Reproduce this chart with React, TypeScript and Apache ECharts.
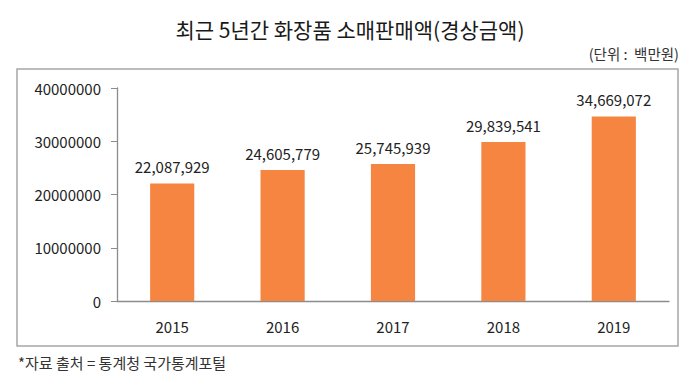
import React, { useEffect, useRef } from "react";
import * as echarts from "echarts";

const titleText = "최근 5년간 화장품 소매판매액(경상금액)";
const unitText = "(단위 :  백만원)";
const sourceText = "*자료 출처 = 통계청 국가통계포털";
const years = ["2015", "2016", "2017", "2018", "2019"];
const sales = [22087929, 24605779, 25745939, 29839541, 34669072];
const yMin = 0;
const yMax = 40000000;
const yInterval = 10000000;

const FONT = "'Noto Sans CJK KR', 'Noto Sans', sans-serif";

export default function App() {
  const ref = useRef<HTMLDivElement>(null);
  useEffect(() => {
    if (!ref.current) return;
    const chart = echarts.init(ref.current, undefined, { renderer: "svg" });
    chart.setOption({
      animation: false,
      backgroundColor: "#ffffff",
      textStyle: { fontFamily: FONT },
      graphic: [
        {
          type: "rect",
          shape: { x: 17, y: 69, width: 661, height: 277 },
          style: { fill: "none", stroke: "#a6a6a6", lineWidth: 1.5 },
          z: -1,
        },
        {
          type: "text",
          x: 350,
          y: 29,
          style: {
            text: titleText,
            fontSize: 21,
            fontFamily: FONT,
            fill: "#1a1a1a",
            align: "center",
            verticalAlign: "middle",
          },
        },
        {
          type: "text",
          x: 679,
          y: 53,
          style: {
            text: unitText,
            fontSize: 14.5,
            fontFamily: FONT,
            fill: "#333",
            align: "right",
            verticalAlign: "middle",
          },
        },
        {
          type: "text",
          x: 18,
          y: 362,
          style: {
            text: sourceText,
            fontSize: 15,
            fontFamily: FONT,
            fill: "#333",
            align: "left",
            verticalAlign: "middle",
          },
        },
      ],
      grid: { left: 117, right: 31, top: 88, bottom: 82 },
      xAxis: {
        type: "category",
        data: years,
        axisLine: { lineStyle: { color: "#8c8c8c", width: 1.3 } },
        axisTick: { show: false },
        axisLabel: { color: "#222", fontSize: 15, margin: 18, fontFamily: FONT },
      },
      yAxis: {
        type: "value",
        min: yMin,
        max: yMax,
        interval: yInterval,
        axisLine: { show: true, lineStyle: { color: "#8c8c8c", width: 1.3 } },
        axisTick: { show: true, length: 6, lineStyle: { color: "#8c8c8c" } },
        splitLine: { show: false },
        axisLabel: {
          color: "#222",
          fontSize: 15,
          margin: 16,
          fontFamily: FONT,
          formatter: (v: number) => String(v),
        },
      },
      series: [
        {
          type: "bar",
          data: sales,
          barWidth: "40%",
          itemStyle: { color: "#F58540" },
          label: {
            show: true,
            position: "top",
            distance: 9,
            color: "#222",
            fontSize: 15,
            fontFamily: FONT,
            formatter: (p: any) => Number(p.value).toLocaleString("en-US"),
          },
        },
      ],
    });
    return () => chart.dispose();
  }, []);
  return (
    <div
      ref={ref}
      style={{ position: "fixed", left: 0, top: 0, width: 700, height: 383 }}
    />
  );
}
